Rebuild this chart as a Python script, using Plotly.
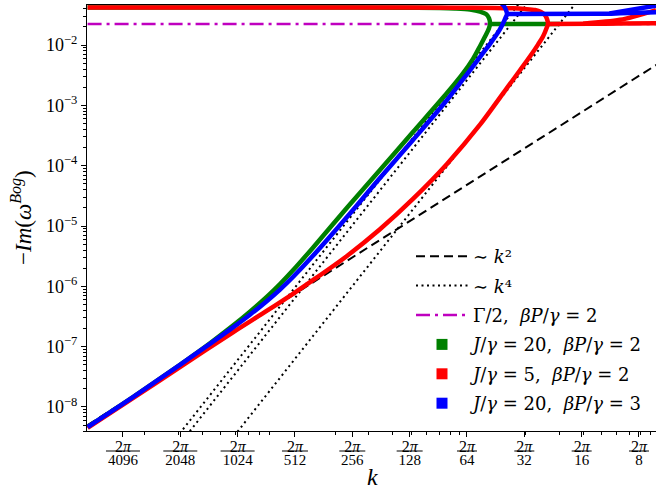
import math
import plotly.graph_objects as go

# ---------------- data ----------------
# reference power laws (two end points each, clipped by the axes)
k_ref = [0.001, 1.0]
k2_ref = [5.0e-9, 5.0e-3]            # ~ k^2
k4_ref_a = [4.23e-11, 42.3]           # ~ k^4 (three guides)
k4_ref_b = [2.83e-11, 28.3]
k4_ref_c = [2.77e-12, 2.77]
gamma_half = [0.0224, 0.0224]         # Gamma/2, beta P/gamma = 2

# J/gamma = 20, beta P/gamma = 2  (lower branch, upper branch | Gamma/2 plateau)
green_k = [0.001, 0.001731, 0.003055, 0.00439, 0.0058, 0.00712, 0.00875, 0.01024, 0.01198,
           0.01525, 0.02301, 0.03428, 0.0511, 0.07709, 0.09354, 0.1056, 0.1149, 0.1221,
           0.1281, 0.1297,
           0.1281, 0.1235, 0.1149, 0.1018, 0.08492, 0.07085, 0.04368, 0.02, 0.001,
           None, 0.1297, 0.302]
green_im = [4.66e-9, 1.459e-8, 5.01e-8, 1.14e-7, 2.234e-7, 3.793e-7, 6.73e-7, 1.089e-6, 1.841e-6,
            4.375e-6, 2.004e-5, 8.472e-5, 3.613e-4, 1.6e-3, 3.388e-3, 5.888e-3, 9.55e-3, 0.0138,
            0.01905, 0.0224,
            0.02802, 0.03264, 0.0359, 0.03877, 0.0403, 0.0410, 0.0415, 0.0418, 0.0418,
            None, 0.0224, 0.0224]

# J/gamma = 5, beta P/gamma = 2
red_k = [0.001, 0.001731, 0.003055, 0.0058, 0.00875, 0.01198, 0.01525, 0.02301, 0.03428,
         0.0511, 0.07709, 0.1149, 0.1593, 0.1863, 0.2102, 0.2316, 0.2461, 0.2583, 0.2615,
         0.2583, 0.2521, 0.2402, 0.2234, 0.198, 0.1712, 0.1377, 0.09023, 0.03, 0.001,
         None, 0.2615, 0.4344, 0.6244, 0.9647,
         None, 0.40, 0.6244, 0.9647]
red_im = [4.487e-9, 1.409e-8, 4.571e-8, 1.734e-7, 3.945e-7, 7.516e-7, 1.265e-6, 3.192e-6, 8.83e-6,
          2.812e-5, 1.069e-4, 4.775e-4, 1.945e-3, 3.819e-3, 6.457e-3, 0.01016, 0.01384, 0.01991, 0.0224,
          0.02698, 0.03143, 0.03524, 0.03803, 0.0395, 0.0406, 0.0412, 0.0416, 0.0418, 0.0418,
          None, 0.0224, 0.0225, 0.0227, 0.0230,
          None, 0.0226, 0.0262, 0.038]

# J/gamma = 20, beta P/gamma = 3
blue_k = [0.001, 0.001731, 0.003055, 0.00439, 0.0058, 0.00712, 0.00875, 0.01024, 0.01198,
          0.01525, 0.02301, 0.03428, 0.0511, 0.07709, 0.09354, 0.1082, 0.1177, 0.1297, 0.1446,
          0.1535, 0.1573, 0.1593,
          0.1573, 0.1535, 0.1482, 0.1411, 0.1297, 0.10, 0.001,
          None, 0.1593, 0.4902, 0.6244, 0.9647,
          None, 0.55, 0.9647]
blue_im = [4.66e-9, 1.459e-8, 5.01e-8, 1.114e-7, 2.084e-7, 3.381e-7, 5.728e-7, 8.85e-7, 1.429e-6,
           3.206e-6, 1.409e-5, 6.245e-5, 2.662e-4, 1.226e-3, 2.692e-3, 4.898e-3, 7.0e-3, 0.01047, 0.01718,
           0.02455, 0.02951, 0.0326,
           0.03803, 0.0443, 0.04968, 0.0559, 0.0674, 0.072, 0.072,
           None, 0.0326, 0.0330, 0.0336, 0.0350,
           None, 0.0335, 0.045]

# axis ticks
x_tick_denoms = [4096, 2048, 1024, 512, 256, 128, 64, 32, 16, 8]
x_tick_numer = "2<i>π</i>"
y_tick_exps = [-8, -7, -6, -5, -4, -3, -2]
x_range = [0.000993, 0.9647]
y_range = [4.0e-9, 0.0461]

# ---------------- figure ----------------
FONT = "Liberation Serif"
LFONT = "DejaVu Serif"
W, H = 656, 493
ML, MR, MT, MB = 87, 0, 5, 62
plot_w = W - ML - MR
plot_h = H - MT - MB
BOTTOM = MT + plot_h

fig = go.Figure()

fig.add_trace(go.Scatter(x=k_ref, y=k2_ref, mode="lines", name="∼ <i>k</i>²",
                         line=dict(color="black", width=2, dash="9px,5px"),
                         legendgroup="a"))
fig.add_trace(go.Scatter(x=k_ref, y=k4_ref_a, mode="lines", name="∼ <i>k</i>⁴",
                         line=dict(color="black", width=2, dash="2px,3.5px"),
                         legendgroup="b"))
fig.add_trace(go.Scatter(x=k_ref, y=k4_ref_b, mode="lines", showlegend=False,
                         line=dict(color="black", width=2, dash="2px,3.5px"),
                         legendgroup="b"))
fig.add_trace(go.Scatter(x=k_ref, y=k4_ref_c, mode="lines", showlegend=False,
                         line=dict(color="black", width=2, dash="2px,3.5px"),
                         legendgroup="b"))
fig.add_trace(go.Scatter(x=k_ref, y=gamma_half, mode="lines",
                         name="Γ/2,  <i>βP</i>/<i>γ</i> = 2",
                         line=dict(color="#bf00bf", width=2.5, dash="14px,5px,3px,5px"),
                         legendgroup="c"))

series = [
    (green_k, green_im, "#008000", "<i>J</i>/<i>γ</i> = 20,  <i>βP</i>/<i>γ</i> = 2", "d"),
    (red_k, red_im, "#ff0000", "<i>J</i>/<i>γ</i> = 5,  <i>βP</i>/<i>γ</i> = 2", "e"),
    (blue_k, blue_im, "#0000ff", "<i>J</i>/<i>γ</i> = 20,  <i>βP</i>/<i>γ</i> = 3", "f"),
]
for xs, ys, col, name, grp in series:
    fig.add_trace(go.Scatter(x=xs, y=ys, mode="lines", showlegend=False,
                             line=dict(color=col, width=4.5, shape="spline", smoothing=0.8),
                             legendgroup=grp))
for xs, ys, col, name, grp in series:
    fig.add_trace(go.Scatter(x=[None], y=[None], mode="markers", name=name,
                             marker=dict(symbol="square", size=11, color=col),
                             legendgroup=grp))
# empty trace that carries the second x axis (denominators of the tick fractions)
fig.add_trace(go.Scatter(x=[None], y=[None], xaxis="x2", yaxis="y", showlegend=False,
                         hoverinfo="skip"))

# ticks
x_tickvals = [2 * math.pi / d for d in x_tick_denoms]
x_ticktext_num = [x_tick_numer for d in x_tick_denoms]
x_ticktext_den = ["%d" % d for d in x_tick_denoms]
x_minor = [m * 10.0 ** e for e in (-3, -2, -1) for m in range(2, 10)]
y_tickvals = [10.0 ** e for e in y_tick_exps]
y_ticktext = ["10<sup>−%d</sup>" % (-e) for e in y_tick_exps]
y_minor = [m * 10.0 ** e for e in range(-9, -1) for m in range(2, 10)]

lx0, lx1 = math.log10(x_range[0]), math.log10(x_range[1])
px_per_dec = plot_w / (lx1 - lx0)

# fraction bars of the x tick labels
bar_y = -(451 - BOTTOM) / plot_h
shapes = []
for d, kv in zip(x_tick_denoms, x_tickvals):
    half = max(10, (8 * len(str(d)) + 2) / 2)
    f = 10 ** (half / px_per_dec)
    shapes.append(dict(type="line", xref="x", yref="paper", x0=kv / f, x1=kv * f,
                       y0=bar_y, y1=bar_y, line=dict(color="black", width=1)))

fig.update_layout(
    width=W, height=H,
    margin=dict(l=ML, r=MR, t=MT, b=MB),
    paper_bgcolor="white", plot_bgcolor="white",
    font=dict(family=FONT, color="black", size=16),
    showlegend=True,
    legend=dict(x=(411 - ML) / plot_w, y=(BOTTOM - 238) / plot_h,
                xanchor="left", yanchor="top",
                bgcolor="rgba(0,0,0,0)", font=dict(family=LFONT, size=18),
                tracegroupgap=3, itemwidth=52),
    shapes=shapes,
    annotations=[
        dict(text="−<i>Im</i>(<i>ω</i><sup><i>Bog</i></sup>)", xref="paper", yref="paper",
             x=(21 - ML) / plot_w, y=0.5, xanchor="center", yanchor="middle",
             textangle=-90, showarrow=False, font=dict(family=FONT, size=23)),
        dict(text="<i>k</i>", xref="paper", yref="paper",
             x=(372 - ML) / plot_w, y=-(H - 1 - BOTTOM) / plot_h,
             xanchor="center", yanchor="bottom", showarrow=False,
             font=dict(family=FONT, size=24)),
    ],
    xaxis=dict(type="log", range=[lx0, lx1], showgrid=False, zeroline=False,
               showline=True, linecolor="black", linewidth=1.2, mirror=True,
               ticks="outside", ticklen=5, tickwidth=1.2, tickcolor="black",
               tickvals=x_tickvals, ticktext=x_ticktext_num, ticklabelstandoff=-4,
               tickfont=dict(family=FONT, size=16),
               minor=dict(tickvals=x_minor, ticks="outside", ticklen=3,
                          tickwidth=1, tickcolor="black", showgrid=False)),
    xaxis2=dict(type="log", range=[lx0, lx1], overlaying="x", anchor="y", side="bottom",
                showgrid=False, zeroline=False, showline=False, ticks="",
                tickvals=x_tickvals, ticktext=x_ticktext_den, ticklabelstandoff=18,
                tickfont=dict(family=FONT, size=15)),
    yaxis=dict(type="log", range=[math.log10(y_range[0]), math.log10(y_range[1])],
               showgrid=False, zeroline=False,
               showline=True, linecolor="black", linewidth=1.2, mirror=False,
               ticks="outside", ticklen=5, tickwidth=1.2, tickcolor="black",
               tickvals=y_tickvals, ticktext=y_ticktext,
               tickfont=dict(family=FONT, size=18),
               minor=dict(tickvals=y_minor, ticks="outside", ticklen=3,
                          tickwidth=1, tickcolor="black", showgrid=False)),
)

fig.write_html("out.html", config={"displayModeBar": False},
               post_script="document.body.style.margin='0px';")
